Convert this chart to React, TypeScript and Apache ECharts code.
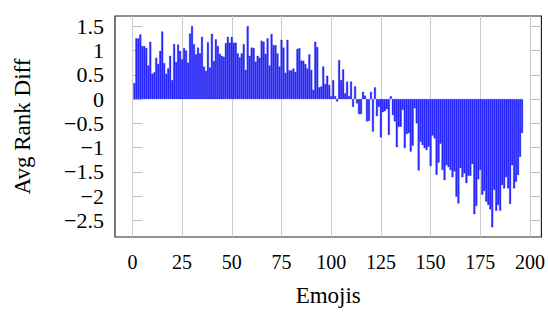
import React, { useEffect, useRef } from "react";
import * as echarts from "echarts";

const values: number[] = [
  // 1-24
  0.33, 1.25, 1.25, 1.33, 1.09, 1.09, 1.05, 0.69, 1.18, 0.52, 0.55, 0.85,
  0.72, 0.99, 1.39, 0.74, 0.52, 0.63, 0.89, 0.39, 1.13, 0.76, 1.12, 0.99,
  // 25-48
  0.82, 1.05, 1.0, 0.75, 1.35, 1.5, 1.13, 0.92, 1.06, 0.94, 1.28, 0.67,
  0.58, 1.17, 0.65, 1.34, 0.78, 1.23, 1.09, 0.93, 0.89, 0.87, 1.15, 1.28,
  // 49-75
  1.16, 1.28, 1.16, 1.16, 0.94, 0.86, 0.94, 1.13, 0.6, 1.5, 0.89, 1.06,
  1.05, 0.77, 0.89, 0.85, 1.2, 1.18, 0.93, 1.25, 0.69, 1.34, 1.11, 1.11,
  0.94, 0.67, 1.22,
  // 76-98
  1.06, 0.54, 1.22, 0.59, 0.59, 0.63, 0.56, 1.03, 1.05, 0.79, 0.79, 0.72,
  0.63, 0.92, 0.6, 0.19, 1.18, 1.07, 0.24, 0.26, 0.67, 0.31, 0.48,
  // 99-123
  0.29, 0.06, 0.39, 0.06, -0.05, 0.8, 0.39, 0.61, 0.12, 0.36, 0.06, 0.36,
  -0.16, 0.26, -0.09, -0.31, -0.31, 0.15, 0.07, -0.46, -0.45, 0.15, -0.67,
  0.24, -0.35,
  // 124-148
  -0.16, -0.79, -0.27, -0.25, -0.21, -0.74, 0.06, -0.33, -0.46, -0.99, -0.57,
  -0.57, -0.22, -1.01, -0.72, -0.7, -1.08, -0.96, -0.19, -0.5, -1.47, -0.88,
  -0.95, -1.01, -1.05,
  // 149-174
  -0.98, -1.38, -0.75, -0.81, -1.56, -1.31, -0.92, -1.46, -1.67, -1.36, -1.4,
  -1.46, -1.61, -1.49, -2.01, -2.15, -1.42, -1.61, -1.53, -1.73, -1.58, -1.58,
  -1.34, -2.37, -2.2, -1.65,
  // 175-196
  -1.46, -1.97, -1.89, -2.11, -2.18, -2.27, -2.64, -1.87, -2.3, -2.18, -2.3,
  -1.77, -1.84, -1.61, -1.84, -2.16, -1.36, -1.84, -1.7, -1.56, -1.19, -0.7,
];

const xTicks: number[] = [0, 25, 50, 75, 100, 125, 150, 175, 200];
const yTicks: number[] = [-2.5, -2, -1.5, -1, -0.5, 0, 0.5, 1, 1.5];

const xLabel = "Emojis";
const yLabel = "Avg Rank Diff";

const FONT = "'Liberation Serif', 'Times New Roman', serif";

function fmt(v: number): string {
  const s = String(v);
  return s.startsWith("-") ? "\u2212" + s.slice(1) : s;
}

export default function App() {
  const ref = useRef<HTMLDivElement>(null);

  useEffect(() => {
    if (!ref.current) return;
    const chart = echarts.init(ref.current, null, { renderer: "svg" });
    const data = values.map((v, i) => [i + 1, v]);
    const xMin = -8.75;
    const xMax = 205.75;
    const yMin = -2.84;
    const yMax = 1.71;

    chart.setOption({
      animation: false,
      grid: {
        left: 115,
        right: 5,
        top: 16,
        bottom: 76,
        show: true,
        borderColor: "#222",
        borderWidth: 1.2,
        backgroundColor: "transparent",
      },
      xAxis: {
        type: "value",
        min: xMin,
        max: xMax,
        name: xLabel,
        nameLocation: "middle",
        nameGap: 47,
        nameTextStyle: { fontFamily: FONT, fontSize: 23, color: "#000" },
        axisLine: { show: false },
        axisTick: {
          show: true,
          inside: false,
          length: 10,
          customValues: xTicks,
          lineStyle: { color: "#bbb", width: 1 },
        },
        axisLabel: {
          customValues: xTicks,
          margin: 15,
          fontFamily: FONT,
          fontSize: 20,
          color: "#000",
          formatter: (v: number) => fmt(v),
        },
        splitLine: { show: false },
      },
      yAxis: [
        {
          type: "value",
          min: yMin,
          max: yMax,
          position: "left",
          name: yLabel,
          nameLocation: "middle",
          nameGap: 81,
          nameTextStyle: { fontFamily: FONT, fontSize: 23, color: "#000" },
          axisLine: { show: false },
          axisTick: {
            show: true,
            inside: true,
            length: 10,
            customValues: yTicks,
            lineStyle: { color: "#bbb", width: 1 },
          },
          axisLabel: {
            customValues: yTicks,
            margin: 11,
            fontFamily: FONT,
            fontSize: 22,
            color: "#000",
            formatter: (v: number) => fmt(v),
          },
          splitLine: { show: false },
        },
        {
          type: "value",
          min: yMin,
          max: yMax,
          position: "right",
          axisLine: { show: false },
          axisTick: {
            show: true,
            inside: true,
            length: 10,
            customValues: yTicks,
            lineStyle: { color: "#bbb", width: 1 },
          },
          axisLabel: { show: false },
          splitLine: { show: false },
        },
      ],
      series: [
        {
          type: "line",
          data: [],
          z: 1,
          silent: true,
          markLine: {
            silent: true,
            z: 1,
            symbol: ["none", "none"],
            label: { show: false },
            lineStyle: { color: "#ccc", type: "solid", width: 1 },
            emphasis: { disabled: true },
            data: xTicks.map((v) => ({ xAxis: v })),
          },
        },
        {
          type: "bar",
          data,
          z: 2,
          barWidth: 2,
          itemStyle: {
            color: "#2a2aff",
            borderColor: "#1f1fe6",
            borderWidth: 0.3,
          },
        },
      ],
    });

    return () => chart.dispose();
  }, []);

  return (
    <div
      ref={ref}
      style={{ position: "absolute", left: 0, top: 0, width: 548, height: 313 }}
    />
  );
}
